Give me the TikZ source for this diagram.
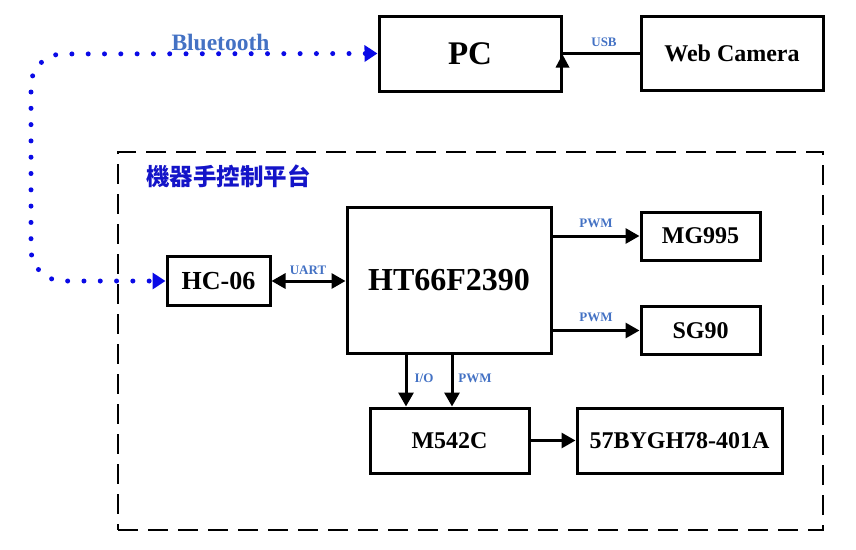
\documentclass[tikz,border=0pt]{standalone}
\usepackage{fontspec}
\setmainfont{Liberation Serif}
\newfontfamily\cjk{Noto Sans CJK TC}
\usetikzlibrary{arrows.meta}
\definecolor{lbl}{HTML}{4472C4}
\definecolor{btblue}{HTML}{0A0AE6}
\definecolor{cnblue}{HTML}{1414C8}
\begin{document}
\begin{tikzpicture}[x=1pt,y=-1pt,
  box/.style={draw, line width=3pt, inner sep=0pt, font=\bfseries\fontsize{24}{28}\selectfont},
  arr/.style={line width=3pt, -{Triangle[length=14pt,width=15pt]}},
  darr/.style={line width=3pt, {Triangle[length=14pt,width=15pt]}-{Triangle[length=14pt,width=15pt]}},
  lab/.style={text=lbl, font=\bfseries\fontsize{13}{15}\selectfont, inner sep=0pt},
  btline/.style={draw=btblue, line width=5pt, line cap=round, dash pattern=on 0pt off 16.3pt,
    rounded corners=32pt,
    {Triangle[length=13pt,width=16pt,fill=btblue]}-{Triangle[length=13pt,width=16pt,fill=btblue]}},
  frame/.style={draw, line width=2.5pt, dash pattern=on 20pt off 10pt, inner sep=0pt}
]
\useasboundingbox (0,0) rectangle (856,549);

% platform frame
\node[frame, minimum width=705pt, minimum height=378pt] (plat) at (470.5,341) {};
\node[text=cnblue, font=\cjk\bfseries\fontsize{23.5}{27}\selectfont, inner sep=0pt] (title) at (228.5,176) {機器手控制平台};

% boxes
\node[box, minimum width=182pt, minimum height=75pt, font=\bfseries\fontsize{33}{36}\selectfont] (pc) at (470,53.5) {PC};
\node[box, minimum width=182pt, minimum height=74pt] (cam) at (732,53.5) {Web Camera};
\node[box, minimum width=103pt, minimum height=49pt, font=\bfseries\fontsize{26}{30}\selectfont] (hc) at (218.5,281) {HC-06};
\node[box, minimum width=204pt, minimum height=146pt, font=\bfseries\fontsize{32}{36}\selectfont] (ht) at (449,280) {HT66F2390};
\node[box, minimum width=119pt, minimum height=48pt] (mg) at (700.5,236) {MG995};
\node[box, minimum width=119pt, minimum height=48pt] (sg) at (700.5,330.5) {SG90};
\node[box, minimum width=159pt, minimum height=65pt] (drv) at (449.5,440.5) {M542C};
\node[box, minimum width=205pt, minimum height=65pt] (mot) at (679.5,440.5) {57BYGH78-401A};

% connectors
\draw[line width=3pt] (cam.west) -- (pc.east);
\fill (pc.east) ++(-7,14) -- ++(14,0) -- ++(-7,-13) -- cycle;
\node[lab] (usb) at (604,42) {USB};

\draw[darr] (hc.east) -- (ht.west |- hc.east);
\node[lab] (uart) at (308,270) {UART};

\draw[arr] (ht.east |- mg.west) -- (mg.west);
\node[lab] (pwm1) at (596,223) {PWM};
\draw[arr] (ht.east |- sg.west) -- (sg.west);
\node[lab] (pwm2) at (596,317) {PWM};

\draw[arr] ([xshift=-43pt]ht.south) -- ([xshift=-43pt]ht.south |- drv.north);
\node[lab] (io) at (424,378) {I/O};
\draw[arr] ([xshift=3pt]ht.south) -- ([xshift=3pt]ht.south |- drv.north);
\node[lab] (pwm3) at (475,378) {PWM};

\draw[arr] (drv.east) -- (mot.west);

% bluetooth
\coordinate (c1) at (31,54);
\coordinate (c2) at (31,281);
\draw[btline] (pc.west) -- (c1) -- (c2) -- (hc.west);
\node[text=lbl, font=\bfseries\fontsize{23.5}{27}\selectfont, inner sep=0pt] (bt) at (220.5,42) {Bluetooth};
\end{tikzpicture}
\end{document}
